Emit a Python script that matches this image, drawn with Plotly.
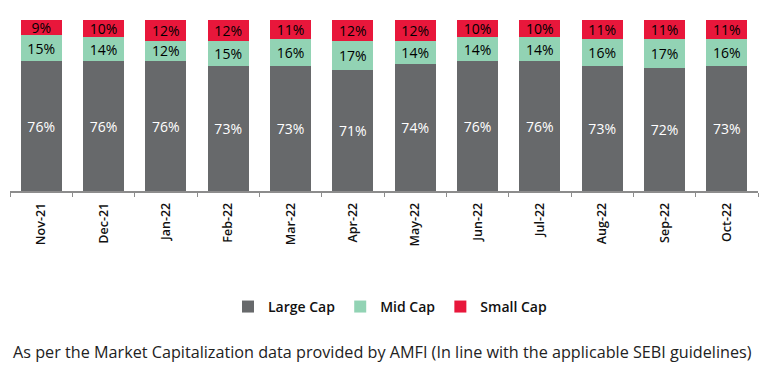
import plotly.graph_objects as go

months = ["Nov-21", "Dec-21", "Jan-22", "Feb-22", "Mar-22", "Apr-22",
          "May-22", "Jun-22", "Jul-22", "Aug-22", "Sep-22", "Oct-22"]
large_cap = [76, 76, 76, 73, 73, 71, 74, 76, 76, 73, 72, 73]
mid_cap = [15, 14, 12, 15, 16, 17, 14, 14, 14, 16, 17, 16]
small_cap = [9, 10, 12, 12, 11, 12, 12, 10, 10, 11, 11, 11]

FONT = "Open Sans"

fig = go.Figure()
series = [
    ("Large Cap", large_cap, "#67696b", "white"),
    ("Mid Cap", mid_cap, "#92d3b4", "black"),
    ("Small Cap", small_cap, "#e8173b", "black"),
]
for name, vals, color, tcolor in series:
    fig.add_trace(go.Bar(
        x=months, y=vals, name=name,
        marker=dict(color=color, line=dict(width=0)),
        text=[f"{v}%" for v in vals],
        textposition="inside", insidetextanchor="middle",
        textfont=dict(family=FONT, size=14, color=tcolor),
        textangle=0, constraintext="none",
    ))

# page body has an 8px margin, so the figure is sized and placed to compensate
fig.update_layout(
    barmode="stack",
    bargap=0.34,
    width=761, height=365,
    margin=dict(l=2, r=11, t=12, b=182),
    plot_bgcolor="white", paper_bgcolor="white",
    font=dict(family=FONT, color="#222"),
    uniformtext=dict(minsize=8, mode="show"),
    legend=dict(orientation="h", x=0.508, xanchor="center", y=-0.678, yanchor="middle",
                font=dict(family=FONT, size=14, color="#111", weight=600),
                itemwidth=30, tracegroupgap=0, traceorder="normal"),
    showlegend=True,
)
fig.update_xaxes(
    showline=True, linecolor="#8c8c8c", linewidth=1.5,
    ticks="outside", tickson="boundaries", ticklen=4, tickcolor="#8c8c8c",
    tickangle=-90, tickfont=dict(family=FONT, size=12.5, color="#111", weight=600),
    ticklabelstandoff=5,
    showgrid=False,
)
fig.update_yaxes(range=[0, 100], visible=False, showgrid=False)

fig.add_annotation(
    text="As per the Market Capitalization data provided by AMFI (In line with the applicable SEBI guidelines)",
    xref="paper", yref="paper", x=0.498, y=-0.94, xanchor="center", yanchor="middle",
    showarrow=False, font=dict(family=FONT, size=16.2, color="#222"),
)

fig.write_html("out.html")
